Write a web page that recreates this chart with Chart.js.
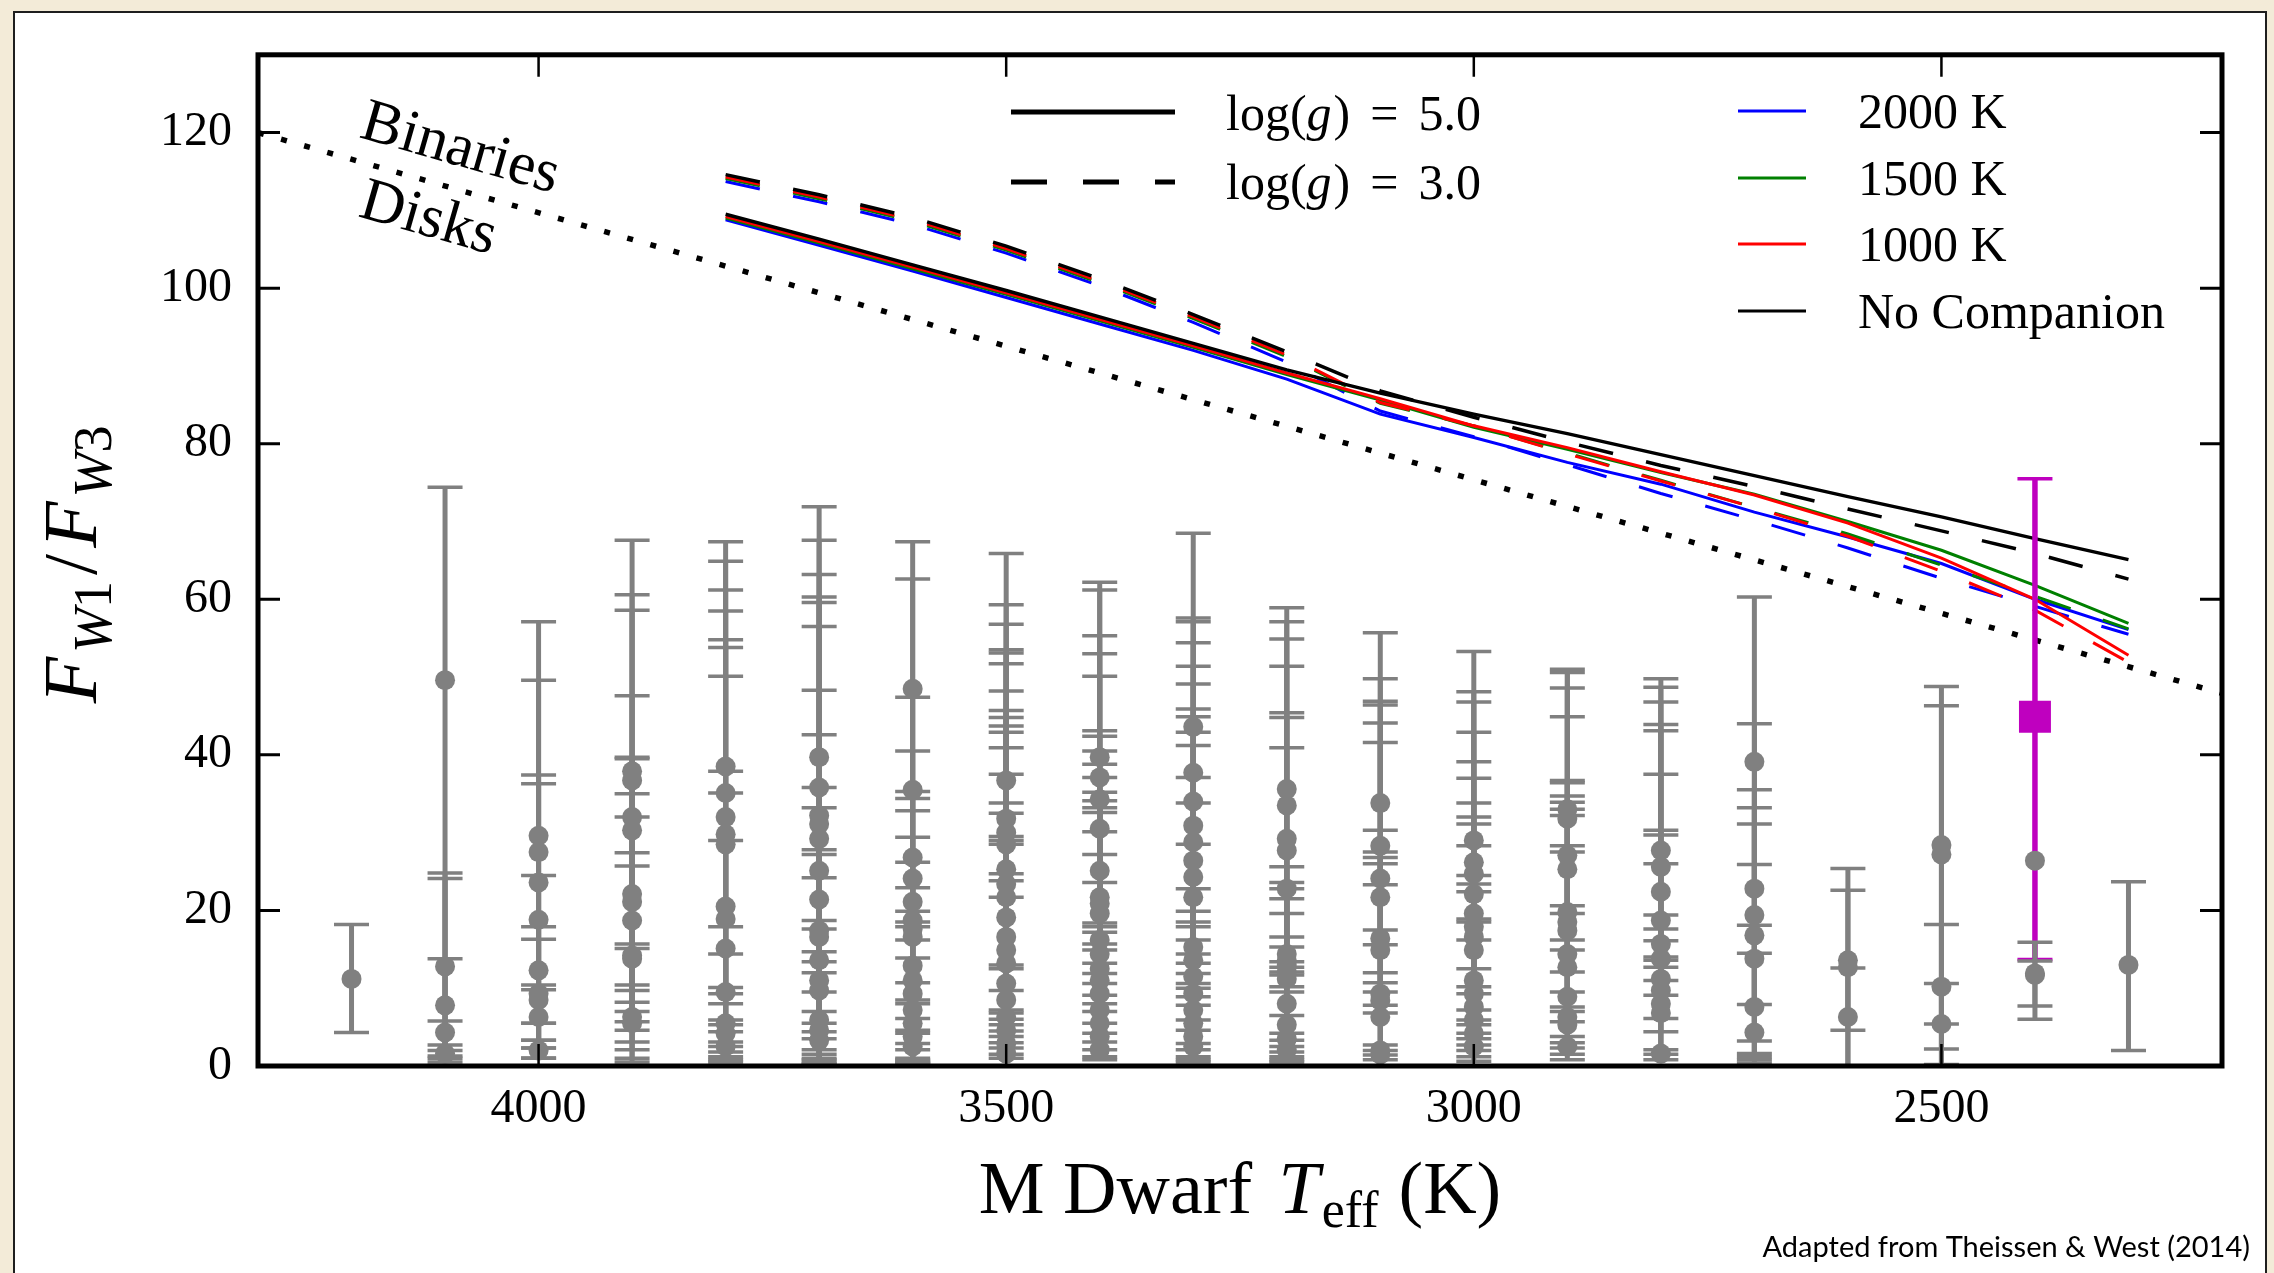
<!DOCTYPE html>
<html>
<head>
<meta charset="utf-8">
<title>W1/W3 flux ratio of M dwarfs</title>
<script src="https://cdn.jsdelivr.net/npm/chart.js@4.4.0/dist/chart.umd.min.js"></script>
<style>
  html, body { margin: 0; padding: 0; background: #f3ebd8; }
  canvas { display: block; }
</style>
</head>
<body>
<canvas id="fluxChart" width="2274" height="1273"></canvas>
<script>
// axis ticks
const tempTicks = [4000, 3500, 3000, 2500];
const ratioTicks = [0, 20, 40, 60, 80, 100, 120];

// observed stars, one column per temperature bin: [ratio, lower, upper]
const starTemps = [4200, 4100, 4000, 3900, 3800, 3700, 3600, 3500, 3400, 3300,
                   3200, 3100, 3000, 2900, 2800, 2700, 2600, 2500, 2400, 2300];
const pts4200 = [[11.2, 4.3, 18.2]];
const pts4100 = [[49.6, 2.7, 74.4], [12.8, 2.0, 24.8], [7.8, 1.3, 24.1], [4.3, 1.0, 13.8], [1.6, 0.5, 5.8]];
const pts4000 = [[29.6, 5.5, 57.1], [27.5, 3.3, 49.6], [23.6, 2.3, 37.4], [18.8, 1.0, 36.3], [12.3, 1.0, 24.5],
                 [9.3, 2.3, 17.9], [8.5, 3.3, 16.3], [6.3, 5.5, 10.4], [2.0, 1.0, 9.8]];
const pts3900 = [[37.9, 15.1, 67.6], [36.7, 10.4, 60.6], [32.0, 9.7, 58.6], [30.3, 8.2, 47.6], [22.1, 7.0, 39.7],
                 [21.1, 5.7, 39.5], [18.7, 4.6, 35.0], [14.2, 3.1, 32.0], [13.8, 2.1, 27.4], [6.3, 1.0, 25.7],
                 [5.5, 0.5, 15.7]];
const pts3800 = [[38.5, 10.1, 67.4], [35.1, 9.3, 64.9], [32.0, 8.0, 61.2], [29.8, 5.9, 58.5], [28.5, 5.3, 54.8],
                 [20.5, 4.4, 53.8], [18.9, 3.1, 50.1], [15.1, 2.5, 37.9], [9.5, 1.8, 35.1], [5.5, 1.2, 29.0],
                 [4.2, 0.8, 17.9], [2.5, 0.5, 14.4]];
const pts3700 = [[39.7, 14.7, 71.9], [35.8, 13.4, 67.6], [32.2, 12.0, 63.2], [31.1, 9.5, 60.3], [29.2, 7.0, 59.6],
                 [25.1, 5.5, 56.5], [21.4, 4.4, 48.3], [17.4, 3.5, 42.6], [16.6, 2.1, 35.8], [13.6, 1.5, 33.2],
                 [11.0, 1.0, 27.8], [9.7, 0.8, 27.2], [5.9, 0.5, 24.2], [4.6, 0.3, 18.7], [3.3, 0.2, 17.6]];
const pts3600 = [[48.5, 10.7, 67.4], [35.5, 8.5, 62.6], [26.8, 8.0, 47.4], [24.1, 6.1, 40.5], [21.1, 4.6, 35.3],
                 [18.7, 4.2, 34.4], [17.6, 2.9, 32.8], [16.6, 2.1, 29.4], [12.9, 1.0, 26.2], [11.0, 0.8, 22.9],
                 [9.3, 0.6, 19.9], [7.2, 0.5, 18.5], [5.5, 0.4, 17.9], [3.8, 0.3, 16.2], [2.5, 0.2, 13.9]];
const pts3500 = [[36.7, 28.5, 65.9], [31.8, 24.7, 59.3], [30.0, 23.8, 56.8], [28.5, 21.7, 53.5], [25.3, 13.0, 53.1],
                 [23.4, 12.5, 51.7], [21.7, 9.7, 48.2], [19.1, 7.2, 45.7], [16.6, 6.8, 44.8], [14.9, 6.0, 43.7],
                 [13.2, 5.3, 42.9], [10.6, 4.5, 40.9], [8.5, 3.8, 37.5], [6.3, 3.0, 33.8], [4.6, 2.3, 32.5],
                 [2.9, 1.5, 29.5], [1.6, 1.0, 29.0]];
const pts3400 = [[39.7, 18.4, 62.2], [37.1, 17.9, 61.2], [34.3, 17.2, 55.3], [30.5, 15.7, 53.0], [25.1, 14.9, 50.1],
                 [21.7, 13.2, 43.1], [20.9, 11.9, 42.4], [19.6, 10.6, 40.5], [16.2, 9.1, 38.8], [14.4, 8.0, 37.1],
                 [12.5, 7.0, 35.2], [11.0, 5.5, 34.1], [9.3, 4.2, 33.2], [7.2, 3.1, 32.6], [5.5, 2.1, 30.1],
                 [3.8, 1.2, 27.2], [2.1, 0.8, 23.6]];
const pts3300 = [[43.6, 17.9, 68.5], [37.7, 16.2, 57.6], [34.0, 14.4, 57.1], [30.9, 13.2, 54.4], [28.8, 11.9, 51.4],
                 [26.4, 10.6, 49.1], [24.3, 10.0, 45.9], [21.7, 8.9, 44.9], [15.3, 7.8, 42.9], [13.6, 5.9, 41.2],
                 [11.5, 4.6, 37.1], [9.3, 2.9, 33.8], [7.2, 2.1, 28.5], [5.5, 1.2, 22.8], [3.8, 0.8, 19.9],
                 [2.5, 0.5, 18.5]];
const pts3200 = [[35.6, 13.4, 58.9], [33.5, 12.7, 57.1], [29.2, 12.1, 54.9], [27.7, 11.7, 51.4], [22.8, 10.2, 45.4],
                 [14.4, 9.5, 44.8], [13.6, 6.5, 40.9], [13.0, 4.2, 25.6], [12.1, 3.3, 23.6], [11.2, 2.5, 22.8],
                 [8.0, 1.8, 21.5], [5.3, 1.2, 19.6], [3.5, 0.8, 16.6], [2.1, 0.5, 15.3]];
const pts3100 = [[33.8, 17.5, 55.7], [28.3, 15.6, 49.8], [24.1, 12.0, 46.9], [21.7, 10.7, 46.4], [16.4, 9.5, 44.1],
                 [14.9, 7.8, 41.6], [9.3, 6.8, 30.3], [8.4, 2.7, 27.5], [6.3, 2.0, 26.8], [2.0, 1.4, 26.0],
                 [1.5, 0.8, 23.3]];
const pts3000 = [[29.0, 18.5, 53.3], [26.2, 16.2, 48.1], [24.7, 12.5, 46.8], [22.1, 10.2, 42.9], [19.6, 9.3, 39.1],
                 [17.9, 7.2, 37.0], [16.6, 5.9, 33.8], [14.9, 5.3, 32.0], [11.0, 4.2, 31.1], [9.3, 3.5, 28.3],
                 [7.6, 2.7, 24.5], [5.9, 2.0, 23.4], [4.2, 1.2, 22.4], [2.5, 0.6, 18.9]];
const pts2900 = [[33.0, 19.6, 51.0], [31.8, 16.2, 50.6], [27.1, 14.9, 48.6], [25.3, 12.1, 44.9], [19.8, 9.5, 36.7],
                 [18.5, 7.6, 36.4], [17.4, 7.0, 34.7], [14.4, 5.7, 33.9], [12.7, 3.8, 33.0], [8.9, 3.0, 32.2],
                 [6.3, 2.3, 28.3], [5.3, 1.5, 27.5], [2.5, 0.8, 20.6]];
const pts2800 = [[27.7, 16.1, 49.8], [25.6, 14.0, 48.7], [22.4, 13.6, 46.8], [18.7, 12.7, 43.9], [15.7, 11.0, 43.1],
                 [13.8, 9.1, 37.5], [11.2, 6.1, 30.3], [9.7, 4.4, 29.7], [8.0, 2.1, 26.0], [6.8, 1.5, 19.4],
                 [1.6, 0.8, 17.6]];
const pts2700 = [[39.1, 14.5, 60.3], [22.8, 7.9, 44.0], [19.4, 3.2, 35.5], [16.8, 1.6, 33.2], [13.8, 1.2, 31.1],
                 [7.6, 0.8, 25.9], [4.3, 0.4, 18.1]];
const pts2600 = [[13.6, 4.6, 25.4], [12.7, -1.5, 22.6], [6.3, -1.5, 12.6]];
const pts2500 = [[28.4, 5.4, 48.8], [27.2, -1.0, 46.3], [10.2, 2.2, 18.2], [5.4, 0.2, 10.6]];
const pts2400 = [[26.4, 26.4, 26.4], [11.9, 6.0, 15.9], [11.7, 7.7, 13.5]];
const pts2300 = [[13.0, 2.0, 23.7]];

// the highlighted star
const targetTemp = [2400];
const targetRatio = [44.9];
const targetLow = [13.7];
const targetHigh = [75.5];

// model tracks: star + companion of given temperature, for log(g) = 5.0 and 3.0
const modelTemps = [3800, 3700, 3600, 3500, 3400, 3300, 3200, 3100, 3000, 2900, 2800, 2700, 2600, 2500, 2400, 2300];
const noneG5  = [109.5, 106.3, 103.0, 99.7, 96.3, 92.9, 89.5, 86.5, 83.8, 81.3, 78.6, 75.9, 73.2, 70.6, 67.8, 65.1];
const k1000G5 = [109.2, 106.0, 102.7, 99.4, 96.0, 92.6, 89.1, 85.8, 82.3, 79.5, 76.4, 73.4, 69.8, 65.3, 60.0, 52.8];
const k1500G5 = [109.0, 105.8, 102.5, 99.2, 95.8, 92.4, 88.9, 85.6, 82.1, 79.3, 76.3, 73.5, 70.0, 66.3, 61.8, 56.9];
const k2000G5 = [108.8, 105.5, 102.2, 98.8, 95.4, 92.0, 88.3, 83.8, 80.8, 77.6, 74.8, 71.2, 68.0, 64.6, 60.0, 56.1];
const noneG3  = [114.6, 112.0, 109.1, 105.4, 101.2, 96.6, 91.8, 86.8, 83.4, 80.2, 77.2, 74.5, 71.6, 68.8, 65.9, 62.6];
const k1000G3 = [114.3, 111.7, 108.8, 105.1, 100.9, 96.3, 91.4, 85.3, 82.3, 78.7, 75.2, 71.8, 68.1, 63.6, 58.6, 51.9];
const k1500G3 = [114.1, 111.5, 108.6, 104.9, 100.7, 96.1, 91.2, 85.2, 82.3, 78.8, 75.3, 71.8, 68.4, 64.4, 60.4, 56.2];
const k2000G3 = [113.7, 111.1, 108.2, 104.5, 100.3, 95.6, 90.5, 84.2, 80.9, 77.3, 73.6, 70.2, 66.6, 62.7, 59.1, 55.5];

// binaries / disks dividing line
const boundaryTemp = [4300, 2200];
const boundaryRatio = [120.0, 47.9];

const SERIF = '"Liberation Serif", "DejaVu Serif", serif';
const BLUE = '#0000ff', GREEN = '#008000', RED = '#ff0000', BLACK = '#000000';
const GRAY = '#808080', MAGENTA = '#bf00bf';
const DASH = [35, 34];

const starColumns = [pts4200, pts4100, pts4000, pts3900, pts3800, pts3700, pts3600, pts3500, pts3400, pts3300,
                     pts3200, pts3100, pts3000, pts2900, pts2800, pts2700, pts2600, pts2500, pts2400, pts2300];
const grayPoints = [];
starColumns.forEach((col, i) => {
  col.forEach(([v, lo, hi]) => grayPoints.push({ x: starTemps[i], y: v, lo: lo, hi: hi }));
});
const targetPoints = targetTemp.map((t, i) => ({ x: t, y: targetRatio[i], lo: targetLow[i], hi: targetHigh[i] }));

function track(values, color, width, dash, order) {
  return {
    data: modelTemps.map((t, i) => ({ x: t, y: values[i] })),
    showLine: true, borderColor: color, borderWidth: width, borderDash: dash || [],
    pointRadius: 0, tension: 0, fill: false, order: order
  };
}

// vertical error bars with caps, drawn under each dataset's markers
const errorBarPlugin = {
  id: 'errorBars',
  beforeDatasetDraw(chart, args) {
    const ds = chart.data.datasets[args.index];
    if (!ds.errorBars) return;
    const { ctx, chartArea: a, scales: { x, y } } = chart;
    const eb = ds.errorBars;
    ctx.save();
    ctx.beginPath();
    ctx.rect(a.left, a.top, a.width, a.height);
    ctx.clip();
    ctx.strokeStyle = eb.color;
    ctx.lineCap = 'butt';
    ds.data.forEach(p => {
      if (p.hi - p.lo <= 0) return; // no measured spread
      const px = x.getPixelForValue(p.x);
      const top = y.getPixelForValue(p.hi);
      const bot = y.getPixelForValue(p.lo);
      ctx.lineWidth = eb.width;
      ctx.beginPath();
      ctx.moveTo(px, top);
      ctx.lineTo(px, bot);
      ctx.stroke();
      ctx.lineWidth = eb.capWidth;
      ctx.beginPath();
      ctx.moveTo(px - eb.capHalf, top); ctx.lineTo(px + eb.capHalf, top);
      ctx.moveTo(px - eb.capHalf, bot); ctx.lineTo(px + eb.capHalf, bot);
      ctx.stroke();
    });
    ctx.restore();
  }
};

// paper background and white slide panel
const panelPlugin = {
  id: 'panel',
  beforeDraw(chart) {
    const { ctx, width, height } = chart;
    ctx.save();
    ctx.fillStyle = '#f3ebd8';
    ctx.fillRect(0, 0, width, height);
    ctx.fillStyle = '#ffffff';
    ctx.fillRect(14, 12, 2252, height);
    ctx.strokeStyle = '#1e1e1e';
    ctx.lineWidth = 2;
    ctx.strokeRect(14, 12, 2252, height + 10);
    ctx.restore();
  }
};

// draws a row of text pieces with their own fonts and offsets
function drawRuns(ctx, runs, x, y, align) {
  let total = 0;
  runs.forEach(r => {
    ctx.font = r.font;
    r.w = ctx.measureText(r.text).width;
    total += r.w + (r.gap || 0);
  });
  let cx = align === 'center' ? x - total / 2 : x;
  runs.forEach(r => {
    ctx.font = r.font;
    ctx.fillText(r.text, cx, y + (r.dy || 0));
    cx += r.w + (r.gap || 0);
  });
}

// box, inward ticks, legends and labels
const decorPlugin = {
  id: 'decor',
  afterDatasetsDraw(chart) {
    const { ctx, chartArea: a, scales: { x, y } } = chart;
    ctx.save();
    ctx.strokeStyle = BLACK;
    ctx.fillStyle = BLACK;
    ctx.lineCap = 'butt';

    ctx.lineWidth = 2.5;
    tempTicks.forEach(t => {
      const px = x.getPixelForValue(t);
      ctx.beginPath();
      ctx.moveTo(px, a.bottom); ctx.lineTo(px, a.bottom - 22);
      ctx.moveTo(px, a.top); ctx.lineTo(px, a.top + 22);
      ctx.stroke();
    });
    ctx.lineWidth = 3;
    ratioTicks.forEach(v => {
      const py = y.getPixelForValue(v);
      ctx.beginPath();
      ctx.moveTo(a.left, py); ctx.lineTo(a.left + 22, py);
      ctx.moveTo(a.right, py); ctx.lineTo(a.right - 22, py);
      ctx.stroke();
    });
    ctx.lineWidth = 5;
    ctx.strokeRect(a.left, a.top, a.width, a.height);

    // line style legend
    ctx.textBaseline = 'alphabetic';
    ctx.lineWidth = 5;
    ctx.beginPath(); ctx.moveTo(1011, 112); ctx.lineTo(1175, 112); ctx.stroke();
    ctx.setLineDash([36, 36]);
    ctx.beginPath(); ctx.moveTo(1011, 182); ctx.lineTo(1175, 182); ctx.stroke();
    ctx.setLineDash([]);
    const f50 = '50px ' + SERIF, i50 = 'italic 50px ' + SERIF;
    drawRuns(ctx, [{ text: 'log(', font: f50 }, { text: 'g', font: i50, gap: 2 }, { text: ')', font: f50, gap: 20 },
                   { text: '=', font: f50, gap: 20 }, { text: '5.0', font: f50 }], 1226, 130);
    drawRuns(ctx, [{ text: 'log(', font: f50 }, { text: 'g', font: i50, gap: 2 }, { text: ')', font: f50, gap: 20 },
                   { text: '=', font: f50, gap: 20 }, { text: '3.0', font: f50 }], 1226, 199);

    // companion temperature legend
    const colorRows = [[BLUE, '2000 K', 111], [GREEN, '1500 K', 178], [RED, '1000 K', 244], [BLACK, 'No Companion', 311]];
    ctx.lineWidth = 3;
    ctx.font = f50;
    colorRows.forEach(([c, label, ly]) => {
      ctx.strokeStyle = c;
      ctx.beginPath(); ctx.moveTo(1738, ly); ctx.lineTo(1806, ly); ctx.stroke();
      ctx.fillText(label, 1858, ly + 17);
    });

    // region labels along the dividing line
    ctx.font = '61px ' + SERIF;
    [['Binaries', 358, 137], ['Disks', 357, 216]].forEach(([t, tx, ty]) => {
      ctx.save();
      ctx.translate(tx, ty);
      ctx.rotate(16 * Math.PI / 180);
      ctx.fillText(t, 0, 0);
      ctx.restore();
    });

    // axis titles
    const f74 = '74px ' + SERIF, i74 = 'italic 74px ' + SERIF, s52 = '52px ' + SERIF;
    drawRuns(ctx, [{ text: 'M Dwarf ', font: f74, gap: 8 }, { text: 'T', font: i74, gap: 2 },
                   { text: 'eff', font: s52, dy: 14, gap: 20 }, { text: '(K)', font: f74 }],
             (a.left + a.right) / 2, 1213, 'center');

    ctx.save();
    ctx.translate(96, (a.top + a.bottom) / 2 + 4);
    ctx.rotate(-Math.PI / 2);
    const i76 = 'italic 76px ' + SERIF, si54 = 'italic 54px ' + SERIF, s54 = '54px ' + SERIF;
    drawRuns(ctx, [{ text: 'F', font: i76, gap: 4 }, { text: 'W', font: si54, dy: 15 }, { text: '1', font: s54, dy: 15, gap: 6 },
                   { text: '/', font: '76px ' + SERIF, gap: 6 },
                   { text: 'F', font: i76, gap: 4 }, { text: 'W', font: si54, dy: 15 }, { text: '3', font: s54, dy: 15 }],
             0, 0, 'center');
    ctx.restore();

    // source note
    ctx.font = '29px Lato, "Liberation Sans", sans-serif';
    ctx.textAlign = 'right';
    ctx.fillText('Adapted from Theissen & West (2014)', 2250, 1257);
    ctx.restore();
  }
};

new Chart(document.getElementById('fluxChart').getContext('2d'), {
  type: 'scatter',
  data: {
    datasets: [
      {
        data: grayPoints, backgroundColor: GRAY, borderColor: GRAY, borderWidth: 0, pointRadius: 10,
        errorBars: { color: GRAY, width: 5, capHalf: 17.5, capWidth: 3.5 }, order: 0
      },
      {
        data: targetPoints, backgroundColor: MAGENTA, borderColor: MAGENTA, borderWidth: 0,
        pointStyle: 'rect', pointRadius: 22.6,
        errorBars: { color: MAGENTA, width: 5.5, capHalf: 17.5, capWidth: 3.5 }, order: 1
      },
      track(noneG5, BLACK, 3.5, null, 2),
      track(noneG3, BLACK, 3.5, DASH, 2),
      track(k1000G5, RED, 3, null, 3),
      track(k1000G3, RED, 3, DASH, 3),
      track(k1500G5, GREEN, 3, null, 4),
      track(k1500G3, GREEN, 3, DASH, 4),
      track(k2000G5, BLUE, 3, null, 5),
      track(k2000G3, BLUE, 3, DASH, 5),
      {
        data: boundaryTemp.map((t, i) => ({ x: t, y: boundaryRatio[i] })),
        showLine: true, borderColor: BLACK, borderWidth: 5.5, borderDash: [6, 18], borderCapStyle: 'butt',
        pointRadius: 0, tension: 0, order: 6
      }
    ]
  },
  options: {
    responsive: false,
    animation: false,
    devicePixelRatio: 1,
    layout: { padding: { top: 52, right: 52, bottom: 0, left: 0 } },
    plugins: { legend: { display: false }, tooltip: { enabled: false } },
    scales: {
      x: {
        type: 'linear', reverse: true, min: 2200, max: 4300,
        grid: { display: false, drawTicks: false }, border: { display: false },
        afterBuildTicks: s => { s.ticks = tempTicks.map(v => ({ value: v })); },
        afterFit: s => { s.height = 207; },
        ticks: { font: { family: SERIF, size: 48 }, color: BLACK, padding: 15, maxRotation: 0, autoSkip: false,
                 callback: v => String(v) }
      },
      y: {
        type: 'linear', min: 0, max: 130,
        grid: { display: false, drawTicks: false }, border: { display: false },
        afterBuildTicks: s => { s.ticks = ratioTicks.map(v => ({ value: v })); },
        afterFit: s => { s.width = 258; },
        ticks: { font: { family: SERIF, size: 48 }, color: BLACK, padding: 26, autoSkip: false,
                 callback: v => String(v) }
      }
    }
  },
  plugins: [panelPlugin, errorBarPlugin, decorPlugin]
});
</script>
</body>
</html>
